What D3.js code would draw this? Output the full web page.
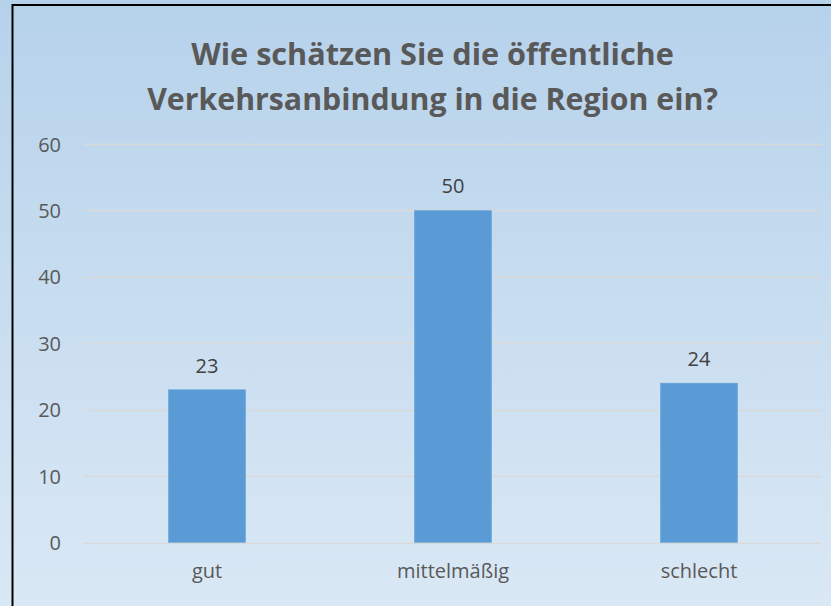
<!DOCTYPE html>
<html><head><meta charset="utf-8">
<script src="https://cdn.jsdelivr.net/npm/d3@7/dist/d3.min.js"></script>
<style>html,body{margin:0;padding:0;overflow:hidden;}</style>
</head><body>
<svg id="c" width="831" height="606"></svg>
<script>
const categories = ["gut", "mittelmäßig", "schlecht"];
const values = [23, 50, 24];
const yTicks = [0, 10, 20, 30, 40, 50, 60];
const titleLines = ["Wie schätzen Sie die öffentliche", "Verkehrsanbindung in die Region ein?"];

const W = 831, H = 606;
const svg = d3.select("#c");
const defs = svg.append("defs");
const g = defs.append("linearGradient").attr("id","bg").attr("x1",0).attr("y1",0).attr("x2",0).attr("y2",1);
g.append("stop").attr("offset","0%").attr("stop-color","#b6d2eb");
g.append("stop").attr("offset","100%").attr("stop-color","#dae8f5");
svg.append("rect").attr("width",W).attr("height",H).attr("fill","url(#bg)");

// border
svg.append("path").attr("d","M12.5,606 L12.5,5 L831,5").attr("fill","none").attr("stroke","#000").attr("stroke-width",2);

const font = "'Open Sans', sans-serif";
const x = d3.scaleBand().domain(categories).range([84, 822]).paddingInner(0.686).paddingOuter(0.343);
const y = d3.scaleLinear().domain([0, 60]).range([542.5, 144]);

// gridlines
svg.append("g").selectAll("line").data(yTicks).join("line")
  .attr("x1",84).attr("x2",822).attr("y1",d=>Math.round(y(d))+0.5).attr("y2",d=>Math.round(y(d))+0.5)
  .attr("stroke","#d9d9d9").attr("stroke-width",1.5);

// y axis labels
const yAxis = d3.axisLeft(y).tickValues(yTicks).tickSize(0).tickPadding(0);
const ya = svg.append("g").attr("transform","translate(61,0)").call(yAxis);
ya.select(".domain").remove();
ya.selectAll("text").attr("font-family",font).attr("font-size",20).attr("fill","#595959").attr("dy","0.35em");

// bars
svg.append("g").selectAll("rect").data(values).join("rect")
  .attr("x",(d,i)=>x(categories[i])).attr("width",x.bandwidth())
  .attr("y",d=>y(d)).attr("height",d=>y(0)-y(d))
  .attr("fill","#5b9bd5").attr("stroke","#6fa8dc").attr("stroke-width",0.5);

// data labels
svg.append("g").selectAll("text").data(values).join("text")
  .attr("x",(d,i)=>x(categories[i])+x.bandwidth()/2).attr("y",d=>y(d)-17)
  .attr("text-anchor","middle").attr("font-family",font).attr("font-size",20).attr("fill","#404040")
  .text(d=>d);

// x axis labels
const xAxis = d3.axisBottom(x).tickSize(0).tickPadding(0);
const xa = svg.append("g").attr("transform","translate(0,578)").call(xAxis);
xa.select(".domain").remove();
xa.selectAll("text").attr("font-family",font).attr("font-size",20).attr("fill","#595959").attr("dy","0");

// title (condensed to mimic the narrow, tall original face)
const targetW = [483, 571];
const baselines = [65, 110];
const cx = 432.5;
titleLines.forEach((t,i)=>{
  const el = svg.append("text").attr("x",0).attr("y",0).attr("text-anchor","middle")
    .attr("font-family",font).attr("font-weight","bold").attr("font-size",30).attr("fill","#595959").text(t);
  const w = el.node().getComputedTextLength();
  el.attr("transform",`translate(${cx},${baselines[i]}) scale(${targetW[i]/w},1)`);
});
</script>
</body></html>
